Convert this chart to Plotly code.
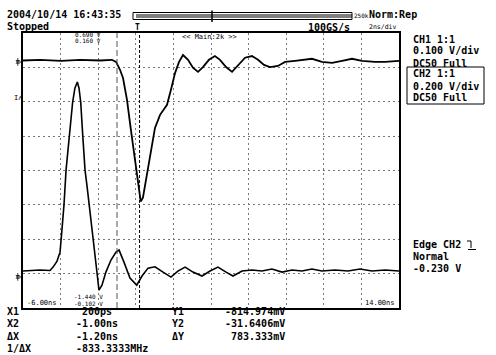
import plotly.graph_objects as go

# ---- data (time in ns, voltage in V) ----
ch1_t = [-6.00, -5.10, -3.97, -2.97, -1.90, -1.27, -1.05, -0.84, -0.68, -0.47, -0.26, -0.04,
         0.12, 0.26, 0.38, 0.60, 0.81, 1.02, 1.29, 1.66, 1.87, 2.09, 2.30, 2.51, 2.78, 3.04,
         3.31, 3.57, 3.89, 4.21, 4.48, 4.80, 5.12, 5.44, 5.81, 6.18, 6.50, 6.82, 7.14, 7.56,
         7.94, 8.47, 9.00, 9.37, 9.90, 10.44, 10.97, 11.50, 12.03, 12.72, 13.26, 14.00]
ch1_v = [0.004, 0.006, 0.003, 0.006, 0.004, 0.006, 0.000, -0.023, -0.047, -0.110, -0.198, -0.285,
         -0.358, -0.406, -0.395, -0.328, -0.256, -0.192, -0.154, -0.125, -0.081, -0.032, 0.000, 0.020,
         0.006, -0.017, -0.029, -0.015, 0.006, 0.017, 0.006, -0.015, -0.029, -0.009, 0.012, 0.017,
         0.006, -0.009, -0.015, -0.012, 0.000, 0.003, 0.006, 0.009, 0.000, -0.003, 0.003, 0.009,
         0.003, 0.000, 0.000, 0.003]

ch2_t = [-6.00, -5.10, -4.56, -4.40, -4.19, -4.03, -3.93, -3.82, -3.71, -3.54, -3.36, -3.24, -3.11,
         -3.02, -2.93, -2.82, -2.70, -2.60, -2.47, -2.26, -2.08, -1.96, -1.80, -1.59, -1.32, -1.05,
         -0.89, -0.63, -0.31, 0.05, 0.33, 0.65, 1.02, 1.45, 1.87, 2.24, 2.62, 3.04, 3.52, 3.95,
         4.37, 4.80, 5.17, 5.65, 6.18, 6.71, 7.24, 7.78, 8.31, 8.84, 9.37, 9.90, 10.60, 11.29,
         11.93, 12.56, 13.26, 14.00]
ch2_v = [0.035, 0.041, 0.038, 0.058, 0.093, 0.145, 0.273, 0.419, 0.622, 0.820, 1.017, 1.099, 1.135,
         1.099, 1.017, 0.820, 0.622, 0.535, 0.419, 0.215, 0.041, -0.076, -0.047, 0.029, 0.099, 0.145,
         0.157, 0.087, -0.006, -0.047, 0.006, 0.052, 0.060, 0.029, 0.000, 0.035, 0.058, 0.029, 0.006,
         0.035, 0.058, 0.029, 0.006, 0.035, 0.041, 0.035, 0.047, 0.029, 0.041, 0.035, 0.047, 0.035,
         0.041, 0.035, 0.047, 0.035, 0.041, 0.035]

ch1_scale, ch1_offset = 0.100, 3.16   # V/div, ground position in divisions
ch2_scale, ch2_offset = 0.200, -3.10
cursor_x = [0.2, -1.0]   # X1, X2 in ns

readout_labels = ["X1", "X2", "\u0394X", "1/\u0394X"]
readout_values = ["\u00a0200ps", "-1.00ns", "-1.20ns", "-833.3333MHz"]
y_labels = ["Y1", "Y2", "\u0394Y"]
y_values = ["-814.974mV", "-31.6406mV", "783.333mV"]

W, H = 496, 355
L, R, T, B = 23, 399, 33, 308

def px(x):
    return (x - L) / (R - L)

def py(y):
    return (B - y) / (B - T)

fig = go.Figure()
fig.add_trace(go.Scatter(x=ch1_t, y=[v / ch1_scale + ch1_offset for v in ch1_v], mode="lines",
                         line=dict(color="black", width=1.8), showlegend=False, hoverinfo="skip"))
fig.add_trace(go.Scatter(x=ch2_t, y=[v / ch2_scale + ch2_offset for v in ch2_v], mode="lines",
                         line=dict(color="black", width=1.6), showlegend=False, hoverinfo="skip"))

shapes = []
# cursors
shapes.append(dict(type="line", xref="x", yref="paper", x0=cursor_x[0], x1=cursor_x[0], y0=0, y1=1,
                   line=dict(color="black", width=1, dash="3px,2px")))
shapes.append(dict(type="line", xref="x", yref="paper", x0=cursor_x[1], x1=cursor_x[1], y0=0, y1=1,
                   line=dict(color="#555", width=1, dash="6px,3px")))
# header bar
shapes.append(dict(type="rect", xref="paper", yref="paper", x0=px(133), x1=px(352), y0=py(12.5), y1=py(19.5),
                   line=dict(color="black", width=1)))
for yy in (15, 17):
    shapes.append(dict(type="line", xref="paper", yref="paper", x0=px(136), x1=px(352), y0=py(yy), y1=py(yy),
                       line=dict(color="black", width=1)))
shapes.append(dict(type="line", xref="paper", yref="paper", x0=px(212), x1=px(212), y0=py(10.5), y1=py(22),
                   line=dict(color="black", width=1.5)))
# CH2 info box
shapes.append(dict(type="rect", xref="paper", yref="paper", x0=px(407), x1=px(484), y0=py(67), y1=py(104),
                   line=dict(color="black", width=1)))
# edge slope symbol
shapes.append(dict(type="path", xref="paper", yref="paper",
                   path=f"M{px(467)},{py(241)} L{px(471)},{py(241)} L{px(471)},{py(248)} "
                        f"M{px(468)},{py(249.5)} L{px(476)},{py(249.5)}",
                   line=dict(color="black", width=1)))
# ground markers tails
for yy in (62, 277):
    shapes.append(dict(type="line", xref="paper", yref="paper", x0=px(16), x1=px(23), y0=py(yy), y1=py(yy),
                       line=dict(color="black", width=1)))

ann = []
MONO = "DejaVu Sans Mono"

def txt(s, x, y, size=10, anchor="left", bold=True, color="black"):
    ann.append(dict(text=(f"<b>{s}</b>" if bold else s), xref="paper", yref="paper", x=px(x), y=py(y),
                    xanchor=anchor, yanchor="middle", showarrow=False,
                    font=dict(family=MONO, size=size, color=color)))

txt("2004/10/14 16:43:35", 5, 14)
txt("Stopped", 5, 26)
txt("250k", 352, 15.5, size=6, bold=False)
txt("Norm:Rep", 367, 14)
txt("100GS/s", 306, 27)
txt("2ns/div", 367, 27, size=6.5, bold=False)
txt("T", 133, 27, size=8)
txt("CH1 1:1", 411, 39)
txt("0.100 V/div", 411, 51)
txt("DC50 Full", 411, 63)
txt("CH2 1:1", 411, 74)
txt("0.200 V/div", 411, 86)
txt("DC50 Full", 411, 98)
txt("Edge CH2", 411, 244)
txt("Normal", 411, 256)
txt("-0.230 V", 411, 268)
txt("<< Main:2k >>", 180, 37, size=7, bold=False)
txt("0.690 V", 73, 34.5, size=6, bold=False)
txt("0.160 V", 73, 41, size=6, bold=False)
txt("-1.440 V", 72, 296.5, size=6, bold=False)
txt("-0.102 V", 72, 303, size=6, bold=False)
txt("-6.00ns", 25, 303, size=7, bold=False)
txt("14.00ns", 397, 303, size=7, anchor="right", bold=False)
txt("\u2021", 17, 62, size=9, anchor="center", bold=False)
txt("\u2021", 17, 277, size=9, anchor="center", bold=False)
txt("I\u028c", 18, 98, size=7, anchor="center", bold=False)

rows_y = [311, 323.5, 336, 348.5]
for lab, val, yy in zip(readout_labels, readout_values, rows_y):
    txt(lab, 5, yy)
    txt(val, 74, yy)
for lab, val, yy in zip(y_labels, y_values, rows_y):
    txt(lab, 170, yy)
    txt(val, 287, yy, anchor="right")

grid = dict(showgrid=True, griddash="2px,3px", gridcolor="#777", gridwidth=1, showticklabels=False,
            zeroline=False, showline=True, mirror=True, linecolor="black", linewidth=1.5, ticks="")
fig.update_layout(
    width=W, height=H, margin=dict(l=L, r=W - R, t=T, b=H - B),
    paper_bgcolor="white", plot_bgcolor="white", showlegend=False,
    xaxis=dict(range=[-6, 14], tick0=-6, dtick=2, **grid),
    yaxis=dict(range=[-4, 4], tick0=-4, dtick=1, **grid),
    shapes=shapes, annotations=ann,
)
fig.write_html("out.html")
